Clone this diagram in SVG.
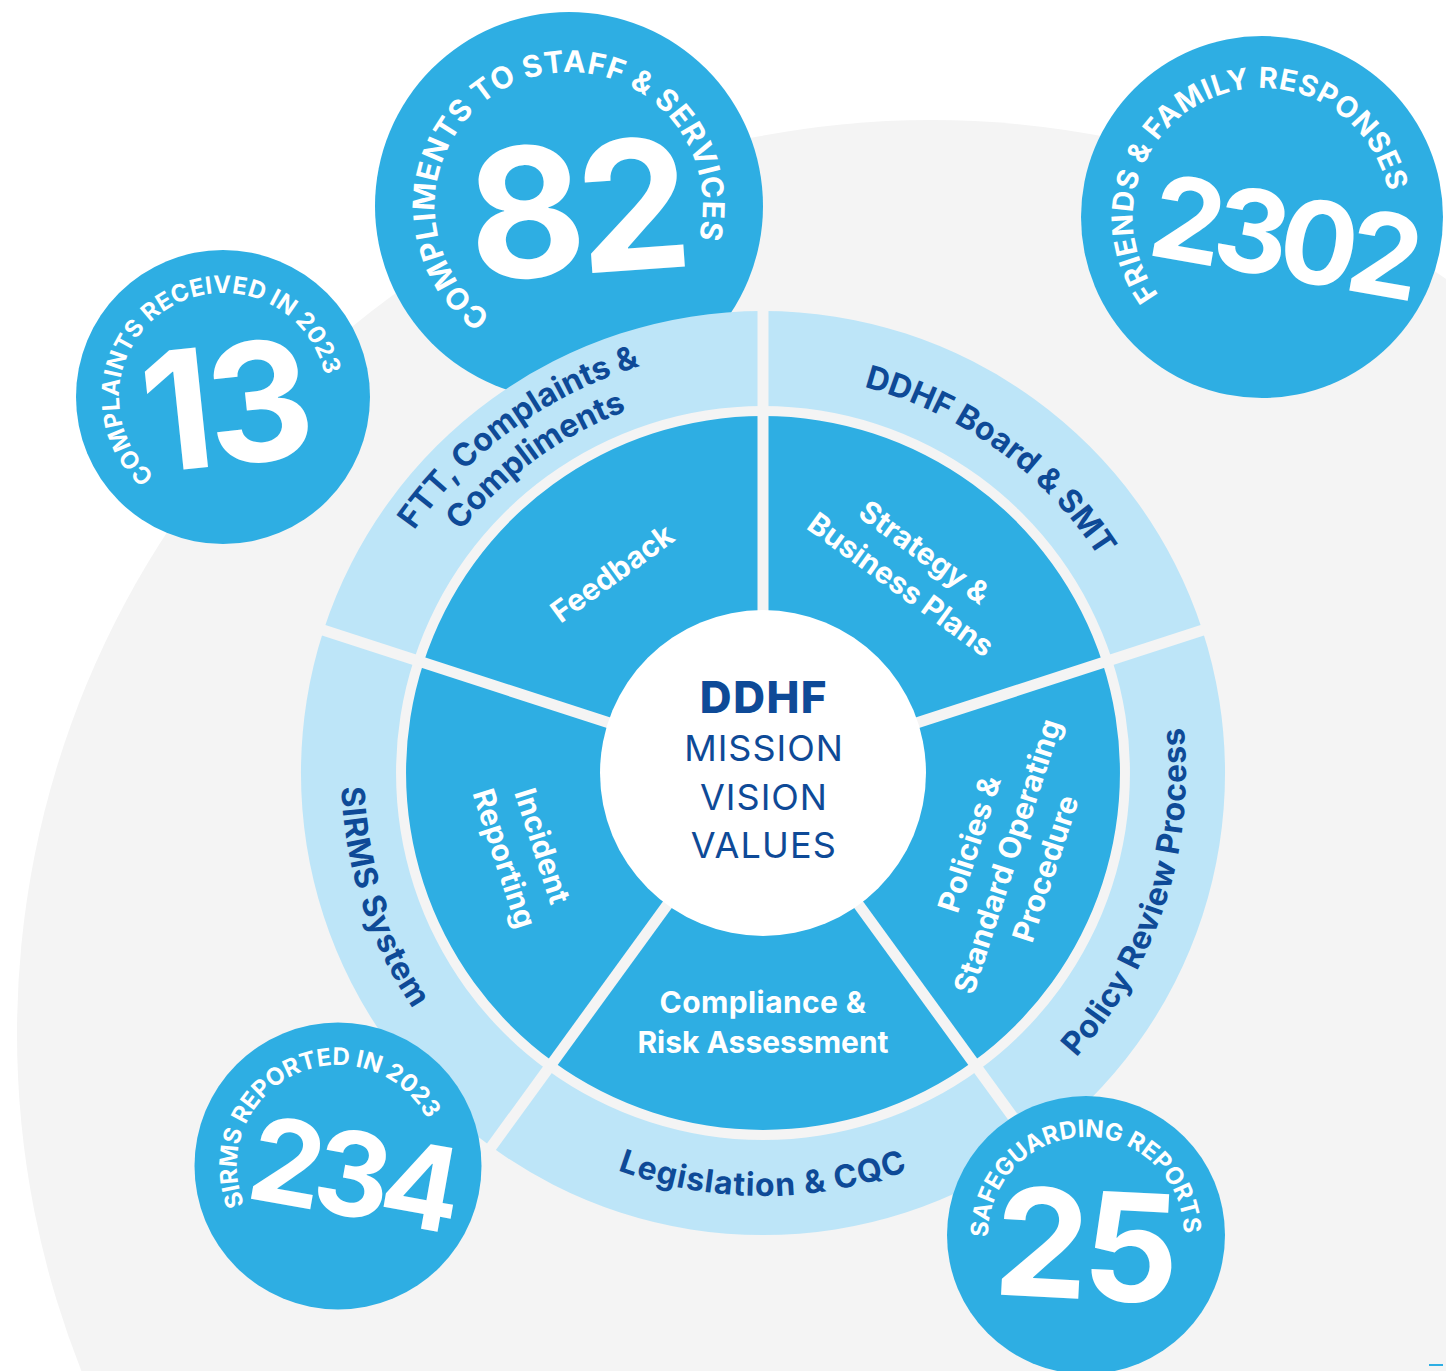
<svg xmlns="http://www.w3.org/2000/svg" width="1446" height="1371" viewBox="0 0 1446 1371">
  <defs>
    <style>
      text { font-family: Inter, "Liberation Sans", sans-serif; }
      .bg { fill: #f4f4f4; }
      .stat { fill: #2eaee3; }
      .core { fill: #2eaee3; }
      .ring { fill: #bde5f8; }
      .divider { stroke: #f4f4f4; stroke-width: 11; }
      .num { fill: #ffffff; font-weight: 700; text-anchor: middle; }
      .arc { fill: #ffffff; font-weight: 700; text-anchor: middle; }
      .inner { fill: #ffffff; font-weight: 700; font-size: 30px; text-anchor: middle; }
      .outer { fill: #0e4a97; font-weight: 700; font-size: 32px; text-anchor: middle; }
      .hub { fill: #0e4a97; text-anchor: middle; }
    </style>
    <!-- baselines for the curved labels round the stat circles (clockwise) -->
    <path id="arc-complaints" d="M259.4,494.4 A104,104 0 1 1 290.5,476.1"/>
    <path id="arc-compliments" d="M592.3,338 A134,134 0 1 1 636,322"/>
    <path id="arc-friends" d="M1293.2,342.2 A129,129 0 1 1 1334.1,323.9"/>
    <path id="arc-sirms" d="M364.1,1263.6 A101,101 0 1 1 395.9,1248.7"/>
    <path id="arc-safeguarding" d="M1070.7,1331.8 A98,98 0 1 1 1104.7,1331.2"/>
    <!-- baselines for the outer ring labels -->
    <path id="ring-ftt-1" d="M358.8,641.7 A425,425 0 0 1 763,348"/>
    <path id="ring-ftt-2" d="M395,653.4 A387,387 0 0 1 763,386"/>
    <path id="ring-board" d="M763,374 A399,399 0 0 1 1142.5,649.7"/>
    <path id="ring-policy" d="M1011.6,1115.2 A423,423 0 0 0 1165.3,642.3"/>
    <path id="ring-legislation" d="M514.4,1115.2 A423,423 0 0 0 1011.6,1115.2"/>
    <path id="ring-sirms" d="M361.7,642.6 A422,422 0 0 0 515,1114.4"/>
  </defs>

  <rect width="1446" height="1371" fill="#ffffff"/>
  <circle id="backdrop" class="bg" cx="931" cy="1034" r="914"/>

  <!-- sits behind the wheel -->
  <g id="stat-compliments">
    <circle class="stat" cx="569" cy="206" r="194"/>
    <text class="arc" font-size="30" letter-spacing="0.7"><textPath href="#arc-compliments" startOffset="50%">COMPLIMENTS TO STAFF &amp; SERVICES</textPath></text>
    <text class="num" font-size="180" letter-spacing="-8" transform="translate(575,209) rotate(-4)" y="65">82</text>
  </g>

  <g id="wheel">
    <g id="seg-feedback">
      <path class="ring" d="M323.6,630.2 A462,462 0 0 1 763,311 L763,406 A367,367 0 0 0 414,659.6 Z"/>
      <path class="core" d="M423.5,662.7 A357,357 0 0 1 763,416 L763,623 A150,150 0 0 0 620.3,726.6 Z"/>
    </g>
    <g id="seg-strategy">
      <path class="ring" d="M763,311 A462,462 0 0 1 1202.4,630.2 L1112,659.6 A367,367 0 0 0 763,406 Z"/>
      <path class="core" d="M763,416 A357,357 0 0 1 1102.5,662.7 L905.7,726.6 A150,150 0 0 0 763,623 Z"/>
    </g>
    <g id="seg-policies">
      <path class="ring" d="M1202.4,630.2 A462,462 0 0 1 1034.6,1146.8 L978.7,1069.9 A367,367 0 0 0 1112,659.6 Z"/>
      <path class="core" d="M1102.5,662.7 A357,357 0 0 1 972.8,1061.8 L851.2,894.4 A150,150 0 0 0 905.7,726.6 Z"/>
    </g>
    <g id="seg-compliance">
      <path class="ring" d="M1034.6,1146.8 A462,462 0 0 1 491.4,1146.8 L547.3,1069.9 A367,367 0 0 0 978.7,1069.9 Z"/>
      <path class="core" d="M972.8,1061.8 A357,357 0 0 1 553.2,1061.8 L674.8,894.4 A150,150 0 0 0 851.2,894.4 Z"/>
    </g>
    <g id="seg-incident">
      <path class="ring" d="M491.4,1146.8 A462,462 0 0 1 323.6,630.2 L414,659.6 A367,367 0 0 0 547.3,1069.9 Z"/>
      <path class="core" d="M553.2,1061.8 A357,357 0 0 1 423.5,662.7 L620.3,726.6 A150,150 0 0 0 674.8,894.4 Z"/>
    </g>

    <g id="dividers">
      <line class="divider" x1="763" y1="623" x2="763" y2="303"/>
      <line class="divider" x1="905.7" y1="726.6" x2="1210" y2="627.7"/>
      <line class="divider" x1="851.2" y1="894.4" x2="1039.3" y2="1153.3"/>
      <line class="divider" x1="674.8" y1="894.4" x2="486.7" y2="1153.3"/>
      <line class="divider" x1="620.3" y1="726.6" x2="316" y2="627.7"/>
    </g>

    <g id="hub">
      <circle cx="763" cy="773" r="163" fill="#ffffff"/>
      <text class="hub" x="764" y="713" font-size="44" font-weight="800" letter-spacing="1.5">DDHF</text>
      <text class="hub" x="764" y="761" font-size="36" letter-spacing="1">MISSION</text>
      <text class="hub" x="764" y="810" font-size="36" letter-spacing="1">VISION</text>
      <text class="hub" x="764" y="858" font-size="36" letter-spacing="1.2">VALUES</text>
    </g>

    <g id="labels-inner">
      <text class="inner" transform="translate(612,573) rotate(-36)" y="11">Feedback</text>
      <g transform="translate(913,568) rotate(36)">
        <text class="inner" y="-9">Strategy &amp;</text>
        <text class="inner" y="31">Business Plans</text>
      </g>
      <g transform="translate(1007,856) rotate(-72)">
        <text class="inner" y="-29">Policies &amp;</text>
        <text class="inner" y="11">Standard Operating</text>
        <text class="inner" y="51">Procedure</text>
      </g>
      <g transform="translate(763,1022)">
        <text class="inner" y="-9" letter-spacing="0.4">Compliance &amp;</text>
        <text class="inner" y="31">Risk Assessment</text>
      </g>
      <g transform="translate(524,852) rotate(72)">
        <text class="inner" y="-9">Incident</text>
        <text class="inner" y="31">Reporting</text>
      </g>
    </g>

    <g id="labels-outer">
      <text class="outer" font-size="28"><textPath href="#ring-ftt-1" startOffset="50%">FTT, Complaints &amp;</textPath></text>
      <text class="outer" font-size="28"><textPath href="#ring-ftt-2" startOffset="50%">Compliments</textPath></text>
      <text class="outer" font-size="31"><textPath href="#ring-board" startOffset="50%">DDHF Board &amp; SMT</textPath></text>
      <text class="outer" letter-spacing="0.4"><textPath href="#ring-policy" startOffset="50%">Policy Review Process</textPath></text>
      <text class="outer" letter-spacing="1"><textPath href="#ring-legislation" startOffset="50%">Legislation &amp; CQC</textPath></text>
      <text class="outer" letter-spacing="0.8"><textPath href="#ring-sirms" startOffset="50%">SIRMS System</textPath></text>
    </g>
  </g>

  <g id="stat-complaints">
    <circle class="stat" cx="223" cy="397" r="147"/>
    <text class="arc" font-size="24" letter-spacing="0.3"><textPath href="#arc-complaints" startOffset="50%">COMPLAINTS RECEIVED IN 2023</textPath></text>
    <text class="num" font-size="165" letter-spacing="-6" transform="translate(224,405) rotate(-6)" y="60">13</text>
  </g>

  <g id="stat-friends-family">
    <circle class="stat" cx="1262" cy="217" r="181"/>
    <text class="arc" font-size="29" letter-spacing="0.7"><textPath href="#arc-friends" startOffset="50%">FRIENDS &amp; FAMILY RESPONSES</textPath></text>
    <text class="num" font-size="115" letter-spacing="-8" transform="translate(1283,236) rotate(10)" y="42">2302</text>
  </g>

  <g id="stat-sirms">
    <circle class="stat" cx="338" cy="1166" r="143.5"/>
    <text class="arc" font-size="24"><textPath href="#arc-sirms" startOffset="50%">SIRMS REPORTED IN 2023</textPath></text>
    <text class="num" font-size="117" letter-spacing="-8" transform="translate(352,1174) rotate(10)" y="42">234</text>
  </g>

  <g id="stat-safeguarding">
    <circle class="stat" cx="1086" cy="1235" r="139"/>
    <text class="arc" font-size="24"><textPath href="#arc-safeguarding" startOffset="50%">SAFEGUARDING REPORTS</textPath></text>
    <text class="num" font-size="150" letter-spacing="-6" transform="translate(1084,1245) rotate(3)" y="54">25</text>
  </g>

  <rect x="1429" y="1364" width="14" height="2" fill="#2eaee3"/>
</svg>
